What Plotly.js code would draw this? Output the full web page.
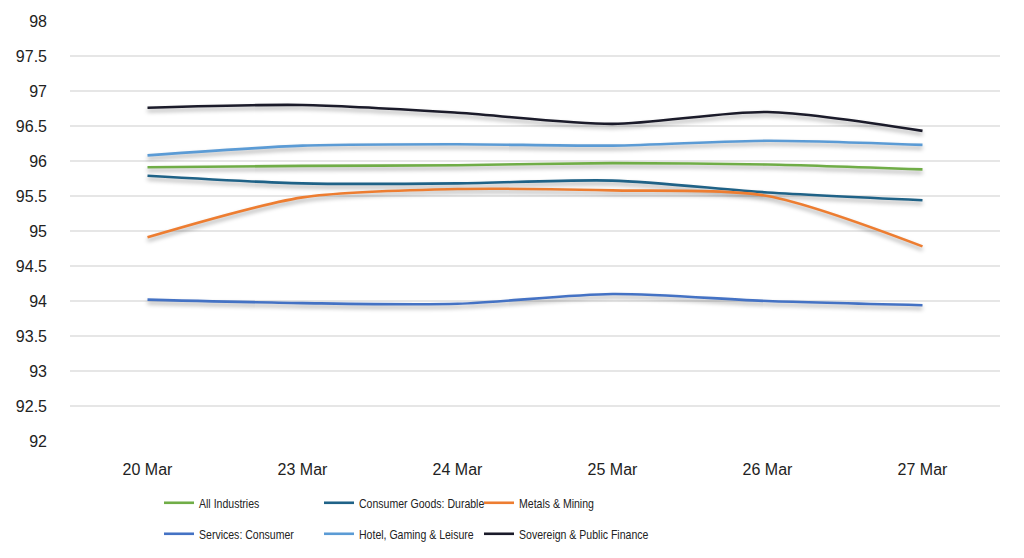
<!DOCTYPE html>
<html>
<head>
<meta charset="utf-8">
<script src="https://cdn.plot.ly/plotly-3.0.1.min.js"></script>
<style>
html,body{margin:0;padding:0;background:#fff;}
#chart{width:1024px;height:558px;}
.scatterlayer .trace path.js-line{filter:drop-shadow(0px 3px 2px rgba(0,0,0,0.35));}
.scrollbox{clip-path:none !important;}
</style>
</head>
<body>
<div id="chart"></div>
<script>
const categories = ["20 Mar","23 Mar","24 Mar","25 Mar","26 Mar","27 Mar"];
const allIndustries = [95.91,95.93,95.94,95.97,95.95,95.88];
const consumerGoodsDurable = [95.79,95.68,95.68,95.72,95.55,95.44];
const metalsMining = [94.91,95.48,95.60,95.58,95.50,94.78];
const servicesConsumer = [94.02,93.97,93.96,94.10,94.00,93.94];
const hotelGamingLeisure = [96.08,96.22,96.24,96.22,96.29,96.23];
const sovereignPublicFinance = [96.76,96.80,96.69,96.53,96.70,96.43];
const yTicks = [92,92.5,93,93.5,94,94.5,95,95.5,96,96.5,97,97.5,98];

const series = [
  {name:"All Industries", y:allIndustries, color:"#70AD47", legend:"legend"},
  {name:"Consumer Goods: Durable", y:consumerGoodsDurable, color:"#1F6287", legend:"legend"},
  {name:"Metals & Mining", y:metalsMining, color:"#ED7D31", legend:"legend"},
  {name:"Services: Consumer", y:servicesConsumer, color:"#4472C4", legend:"legend2"},
  {name:"Hotel, Gaming & Leisure", y:hotelGamingLeisure, color:"#5B9BD5", legend:"legend2"},
  {name:"Sovereign & Public Finance", y:sovereignPublicFinance, color:"#1B1B2A", legend:"legend2"}
];

const traces = series.map(s => ({
  type:"scatter", mode:"lines", x:categories, y:s.y, name:s.name,
  legend:s.legend,
  line:{color:s.color, width:2.6, shape:"spline", smoothing:0.8}
}));

const legendFont = {family:"Liberation Sans, Arial, sans-serif", size:13.5, color:"#222"};
const legendBase = {orientation:"h", x:0.0957, xanchor:"left", yanchor:"middle",
  entrywidth:115, entrywidthmode:"pixels", font:legendFont, bgcolor:"rgba(0,0,0,0)",
  itemwidth:30, tracegroupgap:0};
const layout = {
  width:1024, height:558,
  margin:{l:70, r:24, t:21, b:117, autoexpand:false},
  paper_bgcolor:"#fff", plot_bgcolor:"#fff",
  font:{family:"Liberation Sans, Arial, sans-serif", color:"#222"},
  xaxis:{
    type:"category", range:[-0.5,5.5], showgrid:false, zeroline:false,
    showline:true, linecolor:"#fff", linewidth:3,
    ticks:"", tickfont:{size:16, color:"#222"}, ticklabelstandoff:12
  },
  yaxis:{
    range:[92,98], tickvals:yTicks, ticktext:yTicks.map(String),
    showgrid:true, gridcolor:"#e6e6e6", gridwidth:1.5,
    zeroline:false, showline:false, ticks:"",
    tickfont:{size:16, color:"#222"}, ticklabelstandoff:22
  },
  showlegend:true,
  legend:Object.assign({}, legendBase, {y:-(62/420)}),
  legend2:Object.assign({}, legendBase, {y:-(93/420)})
};

function narrowLegendText() {
  gd.querySelectorAll("g.infolayer text").forEach(t => {
    if (t.hasAttribute("textLength")) return;
    const w = t.getComputedTextLength();
    if (!w) return;
    t.setAttribute("textLength", (w * 0.78).toFixed(1));
    t.setAttribute("lengthAdjust", "spacingAndGlyphs");
  });
}

const gd = document.getElementById("chart");
Plotly.newPlot(gd, traces, layout, {displayModeBar:false, staticPlot:true}).then(() => {
  narrowLegendText();
  gd.on("plotly_afterplot", narrowLegendText);
  setTimeout(narrowLegendText, 0);
  setTimeout(narrowLegendText, 50);
  setTimeout(narrowLegendText, 200);
});
</script>
</body>
</html>
